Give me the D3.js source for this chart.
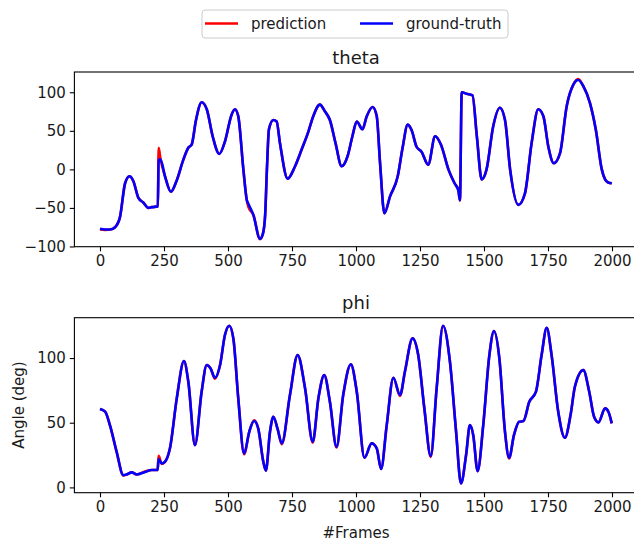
<!DOCTYPE html>
<html><head><meta charset="utf-8">
<script src="https://cdn.jsdelivr.net/npm/d3@7"></script>
<style>body{margin:0;background:#fff}svg{display:block}text{font-family:"DejaVu Sans",sans-serif;fill:#1a1a1a}</style>
</head><body><svg id="c" width="634" height="542"></svg>
<script>
// ---- data ----
const xTicks = [0,250,500,750,1000,1250,1500,1750,2000];
const thetaTicks = [-100,-50,0,50,100];
const phiTicks = [0,50,100];

const thetaFramesGT = [0,20,40,59,78,98,115,130,150,169,189,202,226,229,236,254,277,300,325,345,358,375,397,417,440,466,488,514,527,540,560,573,580,599,625,636,645,652,660,677,690,703,733,762,788,814,833,859,879,898,920,944,967,986,1003,1025,1042,1065,1081,1094,1111,1133,1163,1181,1202,1217,1237,1256,1282,1309,1332,1361,1385,1400,1406,1413,1432,1455,1472,1491,1510,1536,1562,1582,1602,1634,1660,1686,1712,1732,1751,1773,1797,1823,1849,1868,1888,1914,1937,1960,1973,1985,1999];
const thetaGT = [-77,-78,-78,-75,-62,-18,-9,-15,-37,-43,-50,-49,-48,12,13,-9,-29,-14,12,28,32,64,87,78,43,20,36,71,78,69,0,-39,-45,-59,-90,-84,-60,0,52,64,62,34,-12,4,26,49,69,84,75,64,34,4,17,43,62,52,69,81,69,8,-57,-35,-9,26,58,51,29,23,6,43,32,0,-18,-28,-40,100,98,96,43,-13,0,56,80,64,0,-46,-31,34,78,69,30,8,21,82,110,116,108,86,51,0,-13,-17,-18];
const thetaPred = [-78,-78.5,-78,-75,-62,-18,-9,-15,-37,-43,-50,-49,-48,28,14,-9,-29,-14,12,28,32,64,87,78,43,20,36,71,78,69,0,-39,-49,-59,-90.5,-84,-60,0,52,64,62,34,-12,4,26,49,69,84,75,64,34,4,17,43,62,52,69,81,69,8,-57,-35,-9,26,58,51,29,23,6,43,32,0,-18,-26.5,-40.5,100,98,96,43,-13,0,56,80,64,0,-46,-31,34,78,69,30,8,21,82,110,117,108,86,51,0,-13,-17,-18];

const phiFramesGT = [0,20,39,65,91,104,124,143,176,202,225,229,241,254,273,300,328,345,371,397,417,432,449,469,488,505,521,540,563,583,602,618,638,648,664,677,694,710,742,772,801,831,853,876,898,924,950,980,1003,1033,1061,1081,1098,1120,1146,1172,1191,1221,1243,1267,1292,1315,1340,1367,1391,1410,1430,1445,1458,1475,1497,1521,1539,1560,1582,1598,1617,1637,1654,1677,1703,1725,1745,1764,1790,1816,1838,1855,1888,1911,1930,1947,1973,1986,1999];
const phiGT = [60.6,58.5,48,27.5,9.5,10,11.6,10,12,13.4,13.4,22,18.5,19.8,30,69,97.7,81.7,32.7,74,94.6,92,84.8,94.6,117.8,125,115,69,26.3,43,51.3,45.6,19.8,13,43,54.6,45,34,71.4,102.3,76.6,35.3,68.8,86.8,66.2,31.4,71.4,95.1,74,22.9,34,30.2,14.2,48.2,84.8,71.4,89.4,115.2,102.3,61,24.2,76.6,125,97,43,3.1,25,48.2,40.4,12.6,48.2,102.3,120.9,99.8,43,22.9,40.4,50.7,51.3,66.2,74,102.3,123.4,102.3,58.5,38.4,55.9,77.8,90.7,74,54.6,50.3,61.1,58.5,49.5];
const phiPred = [60.6,58.5,48,27.5,9.2,10,11.6,10,12.3,13.4,13.4,24.5,18.2,19.8,30,69,97.7,81.7,32.7,74,94.6,92,84,94.6,117.8,125,115,69,25.6,43,51.9,45.6,19.8,13,43,54.6,45,33.4,71.4,102.3,76.6,34.6,68.8,86.8,66.2,30.8,71.4,95.1,74,22.9,34,30.2,14.2,48.2,84.8,70.7,89.4,115.2,102.3,61,23.6,76.6,125,97,43,3.1,25,48.2,40.4,12.6,48.2,102.3,120.9,99.8,43,22.3,40.4,50.7,51.3,66.2,74,102.3,123.4,102.3,58.5,38.4,55.9,77.8,90.7,74,54.6,50.3,61.1,58.5,49.5];

// ---- layout ----
const svg = d3.select("#c");
const FS = 15;
const x = d3.scaleLinear().domain([-100,2100]).range([74.4,637.6]);
const panels = [
  {title:"theta", frames:thetaFramesGT, gt:thetaGT, pred:thetaPred, ticks:thetaTicks, domain:[-100.3,126.3], top:72, bottom:246.7},
  {title:"phi", frames:phiFramesGT, gt:phiGT, pred:phiPred, ticks:phiTicks, domain:[-4.1,131.2], top:317.7, bottom:492.7}
];
const fmt = d => (d<0 ? "\u2212"+Math.abs(d) : String(d));

panels.forEach(p => {
  const y = d3.scaleLinear().domain(p.domain).range([p.bottom,p.top]);
  const g = svg.append("g");
  const line = d3.line().x((d,i)=>x(p.frames[i])).y(d=>y(d)).curve(d3.curveMonotoneX);
  g.append("path").attr("d", line(p.pred)).attr("fill","none").attr("stroke","#ff0000").attr("stroke-width",2.6).attr("stroke-linejoin","round");
  g.append("path").attr("d", line(p.gt)).attr("fill","none").attr("stroke","#0000ff").attr("stroke-width",2.6).attr("stroke-linejoin","round");
  g.append("rect").attr("x",x.range()[0]).attr("y",p.top).attr("width",x.range()[1]-x.range()[0]).attr("height",p.bottom-p.top)
    .attr("fill","none").attr("stroke","#000").attr("stroke-width",1.1);
  const ax = g.append("g").attr("transform",`translate(0,${p.bottom})`)
    .call(d3.axisBottom(x).tickValues(xTicks).tickSize(4.6).tickPadding(4).tickFormat(d=>String(d)));
  const ay = g.append("g").attr("transform",`translate(${x.range()[0]},0)`)
    .call(d3.axisLeft(y).tickValues(p.ticks).tickSize(4.6).tickPadding(4).tickFormat(fmt));
  [ax,ay].forEach(a=>{
    a.select(".domain").remove();
    a.selectAll(".tick line").attr("stroke","#000").attr("stroke-width",1.1);
    a.selectAll(".tick text").attr("font-size",FS).attr("font-family","DejaVu Sans").attr("fill","#1a1a1a");
  });
  g.append("text").attr("x",356).attr("y",p.top-8.4).attr("text-anchor","middle").attr("font-size",18).text(p.title);
});

svg.append("text").attr("x",356).attr("y",537.5).attr("text-anchor","middle").attr("font-size",FS).text("#Frames");
svg.append("text").attr("transform","translate(23.5,405) rotate(-90)").attr("text-anchor","middle").attr("font-size",FS).text("Angle (deg)");

const lg = svg.append("g");
lg.append("rect").attr("x",202).attr("y",10).attr("width",306).attr("height",28).attr("rx",3)
  .attr("fill","#fff").attr("stroke","#cccccc").attr("stroke-width",1);
const items = [{label:"prediction", color:"#ff0000", x0:205}, {label:"ground-truth", color:"#0000ff", x0:360}];
items.forEach(it=>{
  lg.append("line").attr("x1",it.x0).attr("x2",it.x0+33).attr("y1",23.5).attr("y2",23.5).attr("stroke",it.color).attr("stroke-width",2.4);
  lg.append("text").attr("x",it.x0+46).attr("y",29).attr("font-size",FS).text(it.label);
});
</script></body></html>
